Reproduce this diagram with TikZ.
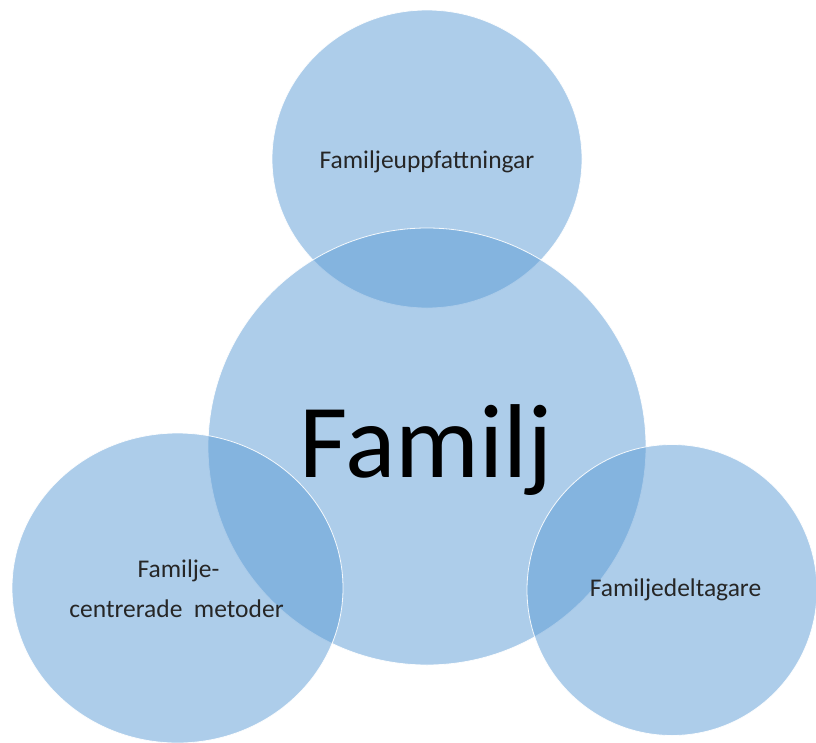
\documentclass[tikz,border=0pt]{standalone}
\usepackage{fontspec}
\setmainfont{Carlito}
\usetikzlibrary{shapes.geometric}
\definecolor{bubble}{HTML}{5B9BD5}
\definecolor{labtext}{HTML}{262626}
\tikzset{
  bubble/.style={ellipse, fill=bubble, fill opacity=0.5, draw=white, draw opacity=0.9, line width=0.8pt, inner sep=0pt},
  smalllab/.style={anchor=base, text=labtext, font=\fontsize{25.5}{30}\selectfont, inner sep=0pt},
  biglab/.style={anchor=base, text=black, font=\fontsize{105}{112}\selectfont, inner sep=0pt}
}
\begin{document}
\begin{tikzpicture}[x=1pt, y=-1pt]
  \useasboundingbox (0,0) rectangle (816,742);
  \clip (0,0) rectangle (816,742);
  \node[bubble, minimum width=310pt, minimum height=298pt] (top) at (427,159) {};
  \node[bubble, minimum width=438pt, minimum height=437pt] (center) at (427,446.5) {};
  \node[bubble, minimum width=331pt, minimum height=310pt] (left) at (177.5,588) {};
  \node[bubble, minimum width=290pt, minimum height=291pt] (right) at (672,590) {};
  \node[biglab] (familj) at (426,477) {Familj};
  \node[smalllab] (uppf) at (427,168) {Familjeuppfattningar};
  \node[smalllab] (delt) at (675.5,596) {Familjedeltagare};
  \node[smalllab] (metA) at (178.5,577) {Familje-};
  \node[smalllab] (metB) at (176.5,617) {centrerade\hspace{0.45em}metoder};
\end{tikzpicture}
\end{document}
